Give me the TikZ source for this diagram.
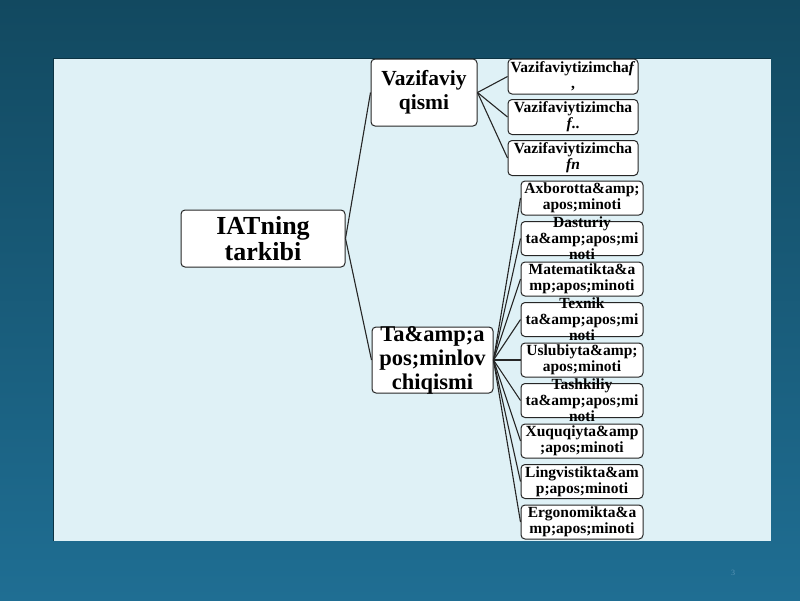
\documentclass[tikz,border=0pt]{standalone}
\usepackage{fontspec}
\setmainfont{Liberation Serif}
\definecolor{fondoarriba}{HTML}{124960}
\definecolor{fondoabajo}{HTML}{1F6E93}
\definecolor{panel}{HTML}{DFF1F6}
\definecolor{linea}{HTML}{262626}
\definecolor{numero}{HTML}{5A95B5}
\tikzset{
  caja/.style={draw=linea, fill=white, rounded corners=4pt, line width=1pt, inner sep=0pt},
  texto/.style={align=center, inner sep=0pt, font=\bfseries\fontsize{15.5}{16}\selectfont},
  enlace/.style={draw=linea, line width=1.1pt}
}
\begin{document}
\begin{tikzpicture}[x=1pt, y=-1pt]

            % Fondo y diapositiva
            \shade[top color=fondoarriba, bottom color=fondoabajo] (0,0) rectangle (800,600);
            \useasboundingbox (0,0) rectangle (800,600);
            \fill[panel] (53,58) rectangle (771,541);
            \draw[fondoarriba!70!black, line width=0.8pt] (53,541) -- (53,58) -- (771,58);

            % Raiz
            \node[caja, minimum width=164pt, minimum height=57pt] (raiz) at (263,238.5) {};
            \node[align=center, inner sep=0pt, font=\bfseries\fontsize{26}{26}\selectfont] (raiztxt) at (raiz) {IATning\\tarkibi};

            % Segundo nivel
            \node[caja, minimum width=106pt, minimum height=67pt] (vaz) at (424,92.5) {};
            \node[align=center, inner sep=0pt, font=\bfseries\fontsize{21.5}{24}\selectfont] (vaztxt) at (vaz) {Vazifaviy\\qismi};
            \node[caja, minimum width=121pt, minimum height=66pt] (tam) at (432.5,360) {};
            \node[align=center, inner sep=0pt, font=\bfseries\fontsize{22.5}{24}\selectfont] (tamtxt) at (tam) {Ta\&amp;a\\pos;minlov\\chiqismi};

            % Subsistemas funcionales
            \foreach \i/\y in {1/76.5, 2/117, 3/158}
              \node[caja, minimum width=130pt, minimum height=35pt] (v\i) at (573,\y) {};
            \node[texto] (v1txt) at (v1) {Vazifaviytizimcha\textit{f}\\,};
            \node[texto] (v2txt) at (v2) {Vazifaviytizimcha\\\textit{f}..};
            \node[texto] (v3txt) at (v3) {Vazifaviytizimcha\\\textit{fn}};

            % Subsistemas de soporte
            \foreach \i in {1,...,9}
              \node[caja, minimum width=122pt, minimum height=34pt] (t\i) at (582,{198+40.5*(\i-1)}) {};
            \node[texto] (t1txt) at (t1) {Axborotta\&amp;\\apos;minoti};
            \node[texto] (t2txt) at (t2) {Dasturiy\\ta\&amp;apos;mi\\noti};
            \node[texto] (t3txt) at (t3) {Matematikta\&a\\mp;apos;minoti};
            \node[texto] (t4txt) at (t4) {Texnik\\ta\&amp;apos;mi\\noti};
            \node[texto] (t5txt) at (t5) {Uslubiyta\&amp;\\apos;minoti};
            \node[texto] (t6txt) at (t6) {Tashkiliy\\ta\&amp;apos;mi\\noti};
            \node[texto] (t7txt) at (t7) {Xuquqiyta\&amp\\;apos;minoti};
            \node[texto] (t8txt) at (t8) {Lingvistikta\&am\\p;apos;minoti};
            \node[texto] (t9txt) at (t9) {Ergonomikta\&a\\mp;apos;minoti};

            % Enlaces
            \draw[enlace] (raiz.east) -- (vaz.west);
            \draw[enlace] (raiz.east) -- (tam.west);
            \foreach \i in {1,2,3}
              \draw[enlace] (vaz.east) -- (v\i.west);
            \foreach \i in {1,...,9}
              \draw[enlace] (tam.east) -- (t\i.west);

            % Numero de diapositiva
            \node[numero, font=\fontsize{8}{9}\selectfont] (num) at (733,573) {3};
        \end{tikzpicture}
\end{document}
